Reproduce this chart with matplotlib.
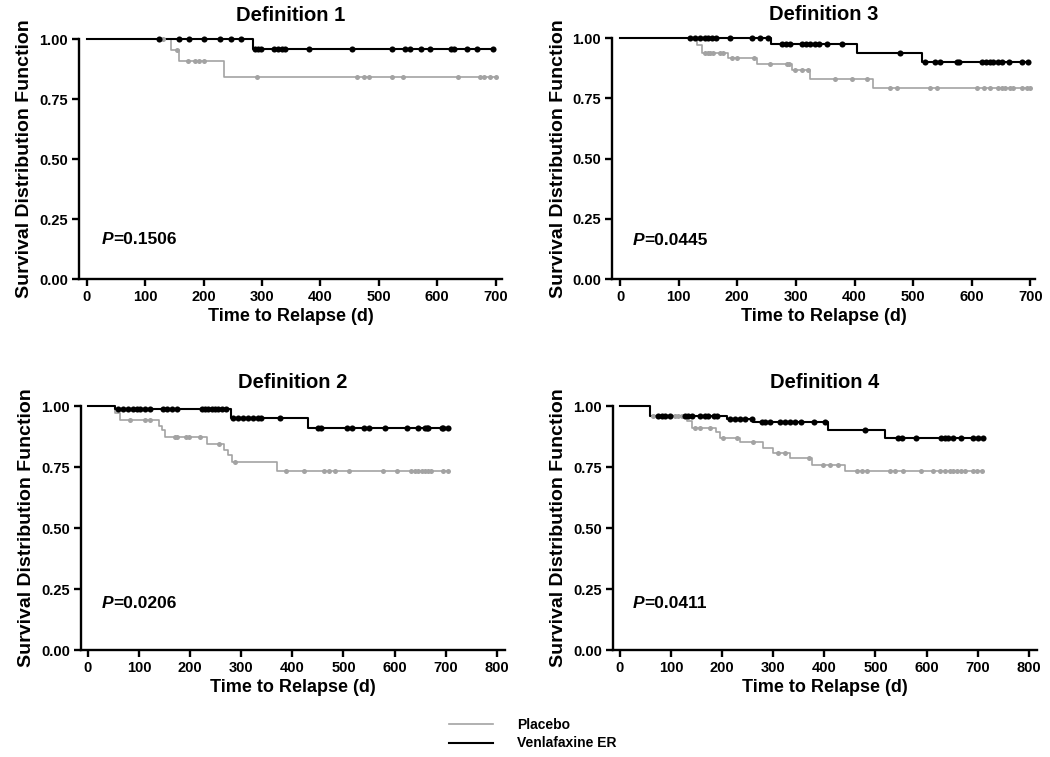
import numpy as np
import matplotlib.pyplot as plt
from matplotlib.lines import Line2D

plt.rcParams['font.family'] = ['Liberation Sans', 'DejaVu Sans']
plt.rcParams['font.weight'] = 'bold'

GRAY = '#a3a3a3'
BLACK = '#000000'

# Definition 1
d1_pla_t = [0, 145, 158, 235]
d1_pla_s = [1.0, 0.953, 0.907, 0.842]
d1_pla_c = [131, 154, 174, 185, 192, 200, 292, 463, 474, 484, 522, 542, 635,
            673, 680, 690, 700]
d1_ven_t = [0, 284]
d1_ven_s = [1.0, 0.958]
d1_ven_c = [124, 158, 176, 200, 229, 247, 265, 289, 293, 299, 321, 328, 334,
            339, 380, 455, 522, 545, 554, 572, 588, 624, 629, 651, 669, 695]

# Definition 3
d3_pla_t = [0, 131, 140, 184, 233, 293, 324, 432]
d3_pla_s = [1.0, 0.971, 0.937, 0.916, 0.892, 0.867, 0.830, 0.791]
d3_pla_c = [145, 150, 154, 159, 171, 176, 191, 199, 228, 256, 284, 289, 299,
            310, 321, 367, 395, 422, 460, 472, 528, 541, 609, 620, 631, 645,
            651, 657, 666, 671, 686, 694, 700]
d3_ven_t = [0, 258, 404, 515]
d3_ven_s = [1.0, 0.975, 0.937, 0.899]
d3_ven_c = [119, 128, 137, 145, 150, 156, 164, 188, 225, 239, 253, 276, 283,
            290, 310, 317, 324, 333, 340, 353, 378, 477, 520, 538, 545, 575,
            579, 617, 625, 631, 637, 645, 651, 663, 686, 696]

# Definition 2
d2_pla_t = [0, 53, 63, 139, 145, 150, 232, 266, 275, 281, 369]
d2_pla_s = [1.0, 0.970, 0.943, 0.92, 0.90, 0.872, 0.843, 0.82, 0.80, 0.772,
            0.734]
d2_pla_c = [82, 111, 121, 170, 175, 192, 198, 219, 257, 287, 387, 423, 461,
            472, 484, 511, 578, 604, 633, 640, 646, 653, 660, 666, 672, 694,
            705]
d2_ven_t = [0, 53, 279, 431]
d2_ven_s = [1.0, 0.988, 0.952, 0.909]
d2_ven_c = [59, 69, 79, 89, 95, 102, 111, 121, 147, 155, 164, 174, 223, 229,
            235, 242, 249, 255, 262, 271, 284, 294, 304, 313, 323, 333, 339,
            376, 451, 457, 506, 516, 540, 550, 581, 624, 646, 660, 663, 666,
            692, 695, 705]

# Definition 4
d4_pla_t = [0, 59, 131, 140, 188, 196, 235, 280, 300, 333, 375, 440]
d4_pla_s = [1.0, 0.96, 0.938, 0.911, 0.895, 0.87, 0.851, 0.829, 0.806, 0.788,
            0.758, 0.734]
d4_pla_c = [65, 108, 114, 121, 147, 157, 176, 202, 228, 261, 310, 323, 370,
            398, 411, 426, 463, 473, 483, 528, 538, 554, 590, 613, 626, 636,
            646, 652, 659, 668, 675, 690, 698, 708]
d4_ven_t = [0, 59, 210, 261, 408, 519]
d4_ven_s = [1.0, 0.96, 0.947, 0.933, 0.902, 0.868]
d4_ven_c = [75, 82, 88, 98, 127, 134, 140, 157, 166, 173, 183, 189, 215, 225,
            235, 245, 258, 277, 284, 294, 313, 323, 333, 342, 355, 380, 401,
            479, 545, 551, 580, 629, 636, 642, 652, 668, 691, 700, 710]

titles = ['Definition 1', 'Definition 3', 'Definition 2', 'Definition 4']
p_values = ['=0.1506', '=0.0445', '=0.0206', '=0.0411']


def km_curve(ax, t, s, cens, color, lw, ms):
    t = np.asarray(t, float)
    s = np.asarray(s, float)
    c = np.asarray(cens, float)
    t_end = max(t[-1], c.max())
    tt = np.append(t, t_end)
    ss = np.append(s, s[-1])
    ax.step(tt, ss, where='post', color=color, lw=lw, clip_on=False, zorder=3)
    idx = np.searchsorted(t, c, side='right') - 1
    ax.plot(c, s[idx], 'o', color=color, ms=ms, mew=0, clip_on=False, zorder=4)


def style_axes(ax, xmax_tick, xlim):
    for side in ['top', 'right']:
        ax.spines[side].set_visible(False)
    for side in ['left', 'bottom']:
        ax.spines[side].set_linewidth(1.7)
    ax.set_ylim(0, 1.0)
    ax.set_xlim(*xlim)
    ax.set_yticks([0, 0.25, 0.5, 0.75, 1.0])
    ax.set_yticklabels(['0.00', '0.25', '0.50', '0.75', '1.00'])
    ax.set_xticks(np.arange(0, xmax_tick + 1, 100))
    ax.tick_params(direction='out', length=5, width=1.7, labelsize=10.5, pad=3)
    ax.set_xlabel('Time to Relapse (d)', fontsize=13, fontweight='bold', labelpad=3)
    ax.set_ylabel('Survival Distribution Function', fontsize=14,
                  fontweight='bold', labelpad=4)


fig = plt.figure(figsize=(10.5, 7.57), dpi=100)

panels = [
    ([0.0752, 0.6314, 0.4029, 0.3170], 700, (-13.2, 711),
     (d1_pla_t, d1_pla_s, d1_pla_c), (d1_ven_t, d1_ven_s, d1_ven_c), (26, 0.164)),
    ([0.5829, 0.6314, 0.4029, 0.3184], 700, (-13.7, 708),
     (d3_pla_t, d3_pla_s, d3_pla_c), (d3_ven_t, d3_ven_s, d3_ven_c), (22, 0.16)),
    ([0.0771, 0.1413, 0.4038, 0.3223], 800, (-13.7, 816),
     (d2_pla_t, d2_pla_s, d2_pla_c), (d2_ven_t, d2_ven_s, d2_ven_c), (27, 0.19)),
    ([0.5838, 0.1413, 0.4038, 0.3223], 800, (-13.7, 816),
     (d4_pla_t, d4_pla_s, d4_pla_c), (d4_ven_t, d4_ven_s, d4_ven_c), (25, 0.19)),
]

for i, (rect, xmax, xlim, pla, ven, ppos) in enumerate(panels):
    ax = fig.add_axes(rect)
    km_curve(ax, *pla, color=GRAY, lw=1.2, ms=3.6)
    km_curve(ax, *ven, color=BLACK, lw=1.5, ms=4.4)
    style_axes(ax, xmax, xlim)
    ax.set_title(titles[i], fontsize=14.5, fontweight='bold', pad=13)
    t = ax.text(ppos[0], ppos[1], 'P', fontsize=12.5, fontweight='bold',
                style='italic', va='center')
    ax.annotate(p_values[i], xycoords=t, xy=(1, 0.5), va='center',
                fontsize=12.5, fontweight='bold')

handles = [Line2D([], [], color=GRAY, lw=1.2), Line2D([], [], color=BLACK, lw=1.5)]
fig.legend(handles, ['Placebo', 'Venlafaxine ER'], loc='center',
           bbox_to_anchor=(0.507, 0.03), frameon=False, fontsize=10,
           handlelength=3.2, handletextpad=1.7, labelspacing=0.3)

fig.savefig('out.png', dpi=100)
